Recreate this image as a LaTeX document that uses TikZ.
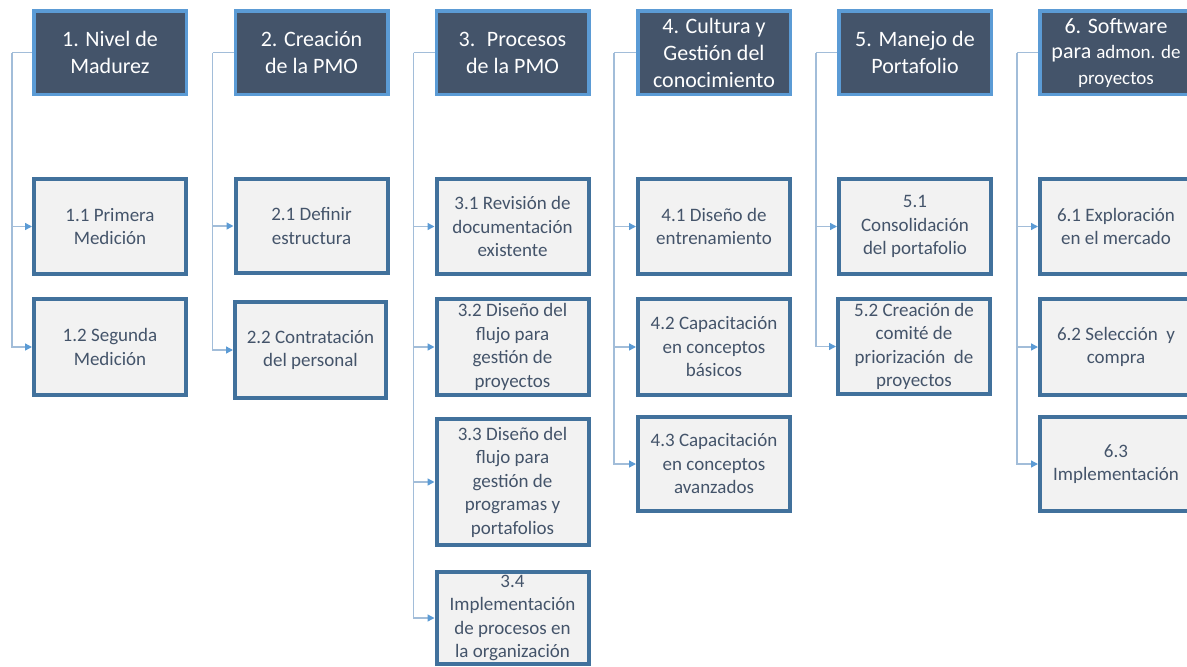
\documentclass[tikz,border=0pt]{standalone}
\usepackage{fontspec}
\setmainfont{Carlito}
\usetikzlibrary{arrows.meta}
\definecolor{hdrfill}{HTML}{44546A}
\definecolor{hdrline}{HTML}{5B9BD5}
\definecolor{boxfill}{HTML}{F2F2F2}
\definecolor{boxline}{HTML}{41719C}
\definecolor{txt}{HTML}{44546A}
\definecolor{connline}{HTML}{A2BDD9}
\definecolor{tipcol}{HTML}{5B9BD5}
\begin{document}
\begin{tikzpicture}[x=1pt,y=-1pt,
 hdr/.style={draw=hdrline, fill=hdrfill, line width=3.5pt, text=white, align=center,
   font=\fontsize{22}{27}\selectfont, minimum width=152.5pt, minimum height=83.5pt,
   inner sep=0pt, outer sep=auto},
 sub/.style={draw=boxline, fill=boxfill, line width=4pt, text=txt, align=center,
   font=\fontsize{19}{23.5}\selectfont, minimum width=152pt, minimum height=95pt,
   inner sep=0pt, outer sep=auto},
 trunk/.style={draw=connline, line width=1.4pt},
 conn/.style={draw=connline, line width=1.4pt, -{Triangle[length=7pt,width=7pt,color=tipcol]}}]
\useasboundingbox (0,0) rectangle (1187,667);
% headers
\node[hdr] (h1) at (110,52.5) {1. Nivel de\\Madurez};
\node[hdr] (h2) at (311.5,52.5) {2. Creación\\de la PMO};
\node[hdr] (h3) at (512.5,52.5) {3.~ Procesos\\de la PMO};
\node[hdr] (h4) at (714,52.5) {4. Cultura y\\Gestión del\\conocimiento};
\node[hdr] (h5) at (915,52.5) {5. Manejo de\\Portafolio};
\node[hdr, font=\fontsize{22}{25.5}\selectfont] (h6) at (1116,52.5) {6. Software\\para {\fontsize{19}{23}\selectfont admon. de}\\{\fontsize{19}{23}\selectfont proyectos}};
% column 1
\node[sub] (c11) at (110,226.5) {1.1 Primera\\Medición};
\node[sub, minimum height=96pt] (c12) at (110,347) {1.2 Segunda\\Medición};
% column 2
\node[sub, minimum height=94pt] (c21) at (311.5,226) {2.1 Definir\\estructura};
\node[sub, minimum width=151pt, minimum height=96pt] (c22) at (310.5,350) {2.2 Contratación\\del personal};
% column 3
\node[sub] (c31) at (512.5,226.5) {3.1 Revisión de\\documentación\\existente};
\node[sub, minimum height=96pt] (c32) at (512.5,347) {3.2 Diseño del\\flujo para\\gestión de\\proyectos};
\node[sub, minimum height=126pt] (c33) at (512.5,482) {3.3 Diseño del\\flujo para\\gestión de\\programas y\\portafolios};
\node[sub, minimum height=92pt] (c34) at (512.5,618) {3.4\\Implementación\\de procesos en\\la organización};
% column 4
\node[sub] (c41) at (714,226.5) {4.1 Diseño de\\entrenamiento};
\node[sub, minimum height=96pt] (c42) at (714,347) {4.2 Capacitación\\en conceptos\\básicos};
\node[sub, minimum height=94pt] (c43) at (714,464) {4.3 Capacitación\\en conceptos\\avanzados};
% column 5
\node[sub] (c51) at (915,226.5) {5.1\\Consolidación\\del portafolio};
\node[sub, minimum height=95pt] (c52) at (914,346.5) {5.2 Creación de\\comité de\\priorización~ de\\proyectos};
% column 6
\node[sub] (c61) at (1116,226.5) {6.1 Exploración\\en el mercado};
\node[sub, minimum height=96pt] (c62) at (1116,347) {6.2 Selección~ y\\compra};
\node[sub, minimum height=94pt] (c63) at (1116,464) {6.3\\Implementación};
% connectors
\draw[trunk] (h1.west) -- ++(-20,0) coordinate (v1);
\draw[conn] (v1) |- (c11.west);
\draw[conn] (v1) |- (c12.west);
\draw[trunk] (h2.west) -- ++(-21,0) coordinate (v2);
\draw[conn] (v2) |- (c21.west);
\draw[conn] (v2) |- (c22.west);
\draw[trunk] (h3.west) -- ++(-21,0) coordinate (v3);
\draw[conn] (v3) |- (c31.west);
\draw[conn] (v3) |- (c32.west);
\draw[conn] (v3) |- (c33.west);
\draw[conn] (v3) |- (c34.west);
\draw[trunk] (h4.west) -- ++(-22,0) coordinate (v4);
\draw[conn] (v4) |- (c41.west);
\draw[conn] (v4) |- (c42.west);
\draw[conn] (v4) |- (c43.west);
\draw[trunk] (h5.west) -- ++(-21,0) coordinate (v5);
\draw[conn] (v5) |- (c51.west);
\draw[conn] (v5) |- (c52.west);
\draw[trunk] (h6.west) -- ++(-21,0) coordinate (v6);
\draw[conn] (v6) |- (c61.west);
\draw[conn] (v6) |- (c62.west);
\draw[conn] (v6) |- (c63.west);
\end{tikzpicture}
\end{document}
